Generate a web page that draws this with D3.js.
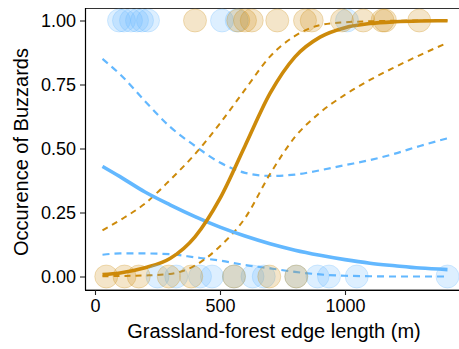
<!DOCTYPE html>
<html>
<head>
<meta charset="utf-8">
<script src="https://cdn.jsdelivr.net/npm/d3@7"></script>
<style>
  body { margin: 0; background: #fff; }
  svg text { font-family: "Liberation Sans", Arial, sans-serif; }
</style>
</head>
<body>
<div id="chart"></div>
<script>
// Variables
var width = 459,
	height = 349;

// fitted curves (edge length in m)
var gridX = [30, 100, 200, 300, 400, 500, 600, 700, 800, 900, 1000, 1100, 1200, 1300, 1410];
var blueFit   = [0.43, 0.39, 0.33, 0.28, 0.234, 0.193, 0.158, 0.128, 0.103, 0.083, 0.066, 0.052, 0.042, 0.033, 0.027];
var blueUpper = [0.85, 0.79, 0.685, 0.585, 0.51, 0.445, 0.405, 0.393, 0.398, 0.415, 0.435, 0.455, 0.48, 0.51, 0.54];
var blueLower = [0.085, 0.09, 0.09, 0.087, 0.075, 0.062, 0.045, 0.032, 0.018, 0.008, 0.003, 0.001, 0, 0, 0];
var orangeFit   = [0.0075, 0.014, 0.034, 0.07, 0.155, 0.305, 0.51, 0.715, 0.858, 0.935, 0.972, 0.988, 0.995, 0.998, 0.999];
var orangeUpper = [0.18, 0.22, 0.285, 0.377, 0.478, 0.598, 0.73, 0.859, 0.94, 0.982, 0.993, 0.997, 0.999, 1, 1];
var orangeLower = [0.001, 0.002, 0.004, 0.01, 0.043, 0.118, 0.228, 0.40, 0.545, 0.64, 0.71, 0.768, 0.818, 0.865, 0.913];

// observed sites (present = 1, absent = 0)
var bluePresent   = [96, 116, 144, 168, 188, 212, 508, 567, 1008];
var blueAbsent    = [250, 325, 420, 468, 556, 630, 675, 805, 890, 936, 1047, 1410];
var orangePresent = [400, 573, 600, 627, 729, 840, 867, 988, 1073, 1150, 1160, 1297];
var orangeAbsent  = [45, 118, 175, 295, 385, 556, 697, 805];

var xTicks = [0, 500, 1000],
	yTicks = [0, 0.25, 0.5, 0.75, 1];

var blue = "#63B8FF",
	orange = "#CD8A0A";

var svg = d3.select("#chart")
	.append("svg")
	.attr("width", width)
	.attr("height", height);

var x = d3.scaleLinear()
	.domain([0, 1000])
	.range([95, 345]);
var y = d3.scaleLinear()
	.domain([0, 1])
	.range([276.5, 20.5]);

// panel border
svg.append("rect")
	.attr("x", 85.5)
	.attr("y", 8.5)
	.attr("width", 380)
	.attr("height", 281.5)
	.attr("fill", "none")
	.attr("stroke", "#333")
	.attr("stroke-width", 1);

function curve(vals) {
	return d3.line()
		.x(function(d, i) { return x(gridX[i]); })
		.y(function(d) { return y(d); })
		.curve(d3.curveMonotoneX)(vals);
}

var lines = [
	{ v: blueUpper, c: blue, w: 2.2, dash: "7,5" },
	{ v: blueLower, c: blue, w: 2.2, dash: "7,5" },
	{ v: orangeUpper, c: orange, w: 2, dash: "6,5" },
	{ v: orangeLower, c: orange, w: 2, dash: "6,5" },
	{ v: blueFit, c: blue, w: 3.6, dash: null },
	{ v: orangeFit, c: orange, w: 3.6, dash: null }
];
svg.append("g")
	.selectAll("path")
	.data(lines)
	.enter()
	.append("path")
	.attr("d", function(d) { return curve(d.v); })
	.attr("fill", "none")
	.attr("stroke", function(d) { return d.c; })
	.attr("stroke-width", function(d) { return d.w; })
	.attr("stroke-dasharray", function(d) { return d.dash; });

// points
var pts = [];
bluePresent.forEach(function(v) { pts.push({ x: v, y: 1, c: blue }); });
blueAbsent.forEach(function(v) { pts.push({ x: v, y: 0, c: blue }); });
orangePresent.forEach(function(v) { pts.push({ x: v, y: 1, c: orange }); });
orangeAbsent.forEach(function(v) { pts.push({ x: v, y: 0, c: orange }); });

svg.append("g")
	.selectAll("circle")
	.data(pts)
	.enter()
	.append("circle")
	.attr("cx", function(d) { return x(d.x); })
	.attr("cy", function(d) { return y(d.y); })
	.attr("r", 11.5)
	.attr("fill", function(d) { return d.c; })
	.attr("fill-opacity", 0.22)
	.attr("stroke", function(d) { return d.c; })
	.attr("stroke-opacity", 0.25);

// axes
var xAxis = svg.append("g")
	.attr("transform", "translate(0,290)")
	.call(d3.axisBottom(x).tickValues(xTicks).tickFormat(d3.format("d")).tickSize(5).tickPadding(4).tickSizeOuter(0));
var yAxis = svg.append("g")
	.attr("transform", "translate(85,0)")
	.call(d3.axisLeft(y).tickValues(yTicks).tickFormat(d3.format(".2f")).tickSize(5).tickPadding(4).tickSizeOuter(0));

xAxis.select(".domain").attr("d", "M85,0.5H460").attr("stroke", "#000").attr("stroke-width", 1.2);
yAxis.select(".domain").attr("d", "M0.5,8V290").attr("stroke", "#000").attr("stroke-width", 1.2);
svg.selectAll(".tick line").attr("stroke", "#222").attr("stroke-width", 1.1);
svg.selectAll(".tick text")
	.attr("fill", "#000")
	.style("font-size", "18px");

svg.append("text")
	.attr("x", 274)
	.attr("y", 338)
	.attr("text-anchor", "middle")
	.style("font-size", "20px")
	.attr("fill", "#000")
	.text("Grassland-forest edge length (m)");

svg.append("text")
	.attr("transform", "translate(28,152) rotate(-90)")
	.attr("text-anchor", "middle")
	.style("font-size", "20px")
	.attr("fill", "#000")
	.text("Occurence of Buzzards");
</script>
</body>
</html>
